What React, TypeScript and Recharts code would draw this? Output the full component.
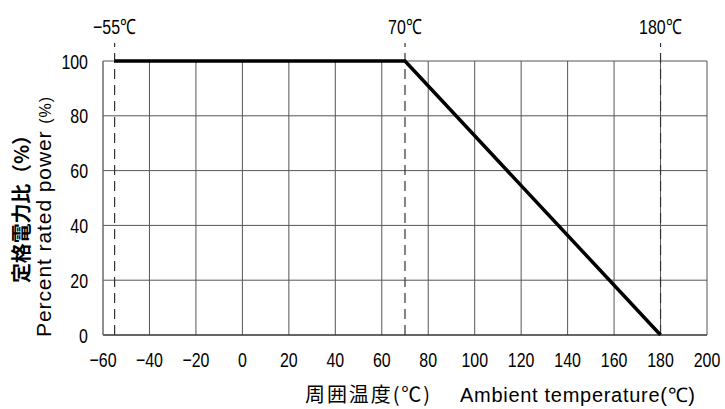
import { LineChart, Line, XAxis, YAxis, CartesianGrid, ReferenceLine } from "recharts"

// derating curve: ambient temperature (°C) -> percent rated power
const temps = [-55, 70, 180]
const power = [100, 100, 0]

const xTicks = [-60, -40, -20, 0, 20, 40, 60, 80, 100, 120, 140, 160, 180, 200]
const yTicks = [0, 20, 40, 60, 80, 100]

// dashed markers drawn above the plot
const markerTemps = [-55, 70, 180]
const markerLabels = ["−55℃", "70℃", "180℃"]

const data = temps.map((t, i) => ({ temp: t, power: power[i] }))

const sans = "'Liberation Sans', Arial, sans-serif"
const jp = "'Noto Sans CJK JP', sans-serif"

const fmt = (v: number) => (v < 0 ? "−" + Math.abs(v) : String(v))

// condensed look: squeeze a regular sans horizontally
function Narrow({ x, y, anchor, size, children }: any) {
  return (
    <text
      transform={`translate(${x},${y}) scale(0.76,1)`}
      textAnchor={anchor}
      fontSize={size}
      fontFamily={sans}
      fill="#000"
    >
      {children}
    </text>
  )
}

const XTick = (p: any) => (
  <Narrow x={p.x} y={p.y + 14} anchor="middle" size={21}>
    {fmt(p.payload.value)}
  </Narrow>
)

const YTick = (p: any) => (
  <Narrow x={p.x} y={p.y + 7.5} anchor="end" size={21}>
    {fmt(p.payload.value)}
  </Narrow>
)

const markerLabel = (txt: string) => (p: any) => {
  const vb = p.viewBox || {}
  return (
    <Narrow x={vb.x + (vb.width || 0) / 2} y={vb.y - 9} anchor="middle" size={21}>
      {txt}
    </Narrow>
  )
}

export default function App() {
  return (
    <div style={{ position: "absolute", left: 0, top: 0, width: 725, height: 409, background: "#fff" }}>
      <LineChart width={725} height={409} data={data} margin={{ top: 61, right: 18, bottom: 34, left: 43 }}>
        <CartesianGrid stroke="#555" strokeWidth={1} />
        <XAxis
          dataKey="temp"
          type="number"
          domain={[-60, 200]}
          ticks={xTicks}
          interval={0}
          height={40}
          tickSize={0}
          tickMargin={18}
          axisLine={{ stroke: "#222" }}
          tick={XTick}
        />
        <YAxis
          type="number"
          domain={[0, 100]}
          ticks={yTicks}
          interval={0}
          width={60}
          tickSize={0}
          tickMargin={15}
          axisLine={{ stroke: "#777" }}
          tick={YTick}
        />
        {markerTemps.map((t, i) => (
          <ReferenceLine
            key={t}
            segment={[{ x: t, y: 0 }, { x: t, y: 106.6 }]}
            ifOverflow="visible"
            stroke="#333"
            strokeWidth={1.2}
            strokeDasharray="10 6"
            label={markerLabel(markerLabels[i])}
          />
        ))}
        <Line
          type="linear"
          dataKey="power"
          stroke="#000"
          strokeWidth={3.5}
          dot={false}
          isAnimationActive={false}
        />
      </LineChart>
      <svg width={725} height={409} style={{ position: "absolute", left: 0, top: 0, pointerEvents: "none" }}>
        <text
          transform="translate(29,204) rotate(-90)"
          textAnchor="middle"
          fontSize={20}
          fontWeight={700}
          fontFamily={jp}
          fill="#000"
          textLength={158}
          lengthAdjust="spacing"
        >
          定格電力比（%）
        </text>
        <text
          transform="translate(51,217) rotate(-90)"
          textAnchor="middle"
          fontSize={21}
          fontFamily={sans}
          fill="#000"
          textLength={240}
          lengthAdjust="spacing"
        >
          Percent rated power <tspan fontSize={16}>(%)</tspan>
        </text>
        <text x={305} y={402} fontSize={20} fontFamily={jp} fill="#000" textLength={125} lengthAdjust="spacing">
          周囲温度(℃)
        </text>
        <text x={460} y={402} fontSize={20} fontFamily={sans} fill="#000" textLength={235} lengthAdjust="spacing">
          Ambient  temperature(℃)
        </text>
      </svg>
    </div>
  )
}
